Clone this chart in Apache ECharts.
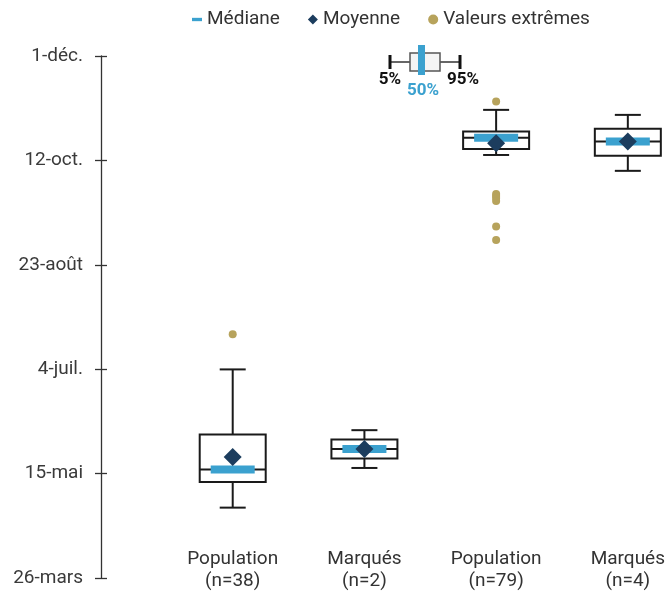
<!DOCTYPE html>
<html>
<head>
<meta charset="utf-8">
<script src="https://cdn.jsdelivr.net/npm/echarts@6/dist/echarts.min.js"></script>
<style>
  html, body { margin: 0; padding: 0; background: #fff; }
  #chart { width: 668px; height: 595px; }
</style>
</head>
<body>
<div id="chart"></div>
<script>
// valeurs en jours depuis le 26 mars
const categories = ['', 'Population\n(n=38)', 'Marqués\n(n=2)', 'Population\n(n=79)', 'Marqués\n(n=4)'];
const tickLabels = ['26-mars', '15-mai', '4-juil.', '23-août', '12-oct.', '1-déc.'];

// [catégorie, 5%, Q1, médiane, Q3, 95%]
const boxData = [
  [1, 33.7, 46.0, 52.0, 68.7, 99.9],
  [2, 52.7, 57.2, 61.8, 66.3, 70.8],
  [3, 202.6, 205.5, 210.8, 213.8, 224.2],
  [4, 195.0, 202.2, 209.0, 215.1, 221.8]
];
const medianData = [[1, 52.0], [2, 61.8], [3, 210.8], [4, 209.0]];
const meanData = [[1, 58.0], [2, 61.8], [3, 208.2], [4, 209.0]];
const outlierData = [
  [1, 116.7],
  [3, 228.2], [3, 183.9], [3, 183.0], [3, 182.0], [3, 180.6], [3, 168.3], [3, 161.9]
];

const FONT = 'Roboto';
const BLUE = '#3ba1cf';
const NAVY = '#1c3d5e';
const GOLD = '#b7a35c';
const INK = '#1a1a1a';

const chart = echarts.init(document.getElementById('chart'));

const option = {
  animation: false,
  backgroundColor: '#fff',
  textStyle: { fontFamily: FONT },
  grid: { left: 101, right: 40, top: 56, bottom: 17 },
  legend: {
    left: 187,
    top: 5,
    itemWidth: 10,
    itemHeight: 10,
    itemGap: 28,
    textStyle: { fontSize: 19, color: '#333', fontFamily: FONT },
    data: [
      { name: 'Médiane', icon: 'path://M0 0H12V4H0Z' },
      { name: 'Moyenne', icon: 'diamond' },
      { name: 'Valeurs extrêmes', icon: 'circle' }
    ]
  },
  xAxis: {
    type: 'category',
    data: categories,
    boundaryGap: false,
    axisLine: { show: false },
    axisTick: { show: false },
    splitLine: { show: false },
    axisLabel: {
      margin: -30,
      interval: 0,
      fontSize: 19,
      lineHeight: 22,
      color: '#333',
      fontFamily: FONT
    }
  },
  yAxis: [
    {
      type: 'value',
      min: 0,
      max: 250,
      interval: 50,
      axisLine: { show: true, lineStyle: { color: '#333', width: 1.3 } },
      axisTick: { show: true, length: 6, lineStyle: { color: '#333', width: 1.3 } },
      splitLine: { show: false },
      axisLabel: {
        margin: 18,
        fontSize: 19,
        color: '#3a3a3a',
        fontFamily: FONT,
        formatter: v => tickLabels[Math.round(v / 50)]
      }
    },
    {
      type: 'value',
      position: 'left',
      min: 0,
      max: 250,
      interval: 50,
      axisLine: { show: false },
      axisTick: { show: true, inside: true, length: 6, lineStyle: { color: '#333', width: 1.3 } },
      splitLine: { show: false },
      axisLabel: { show: false }
    }
  ],
  graphic: [
    // petite légende schématique 5% / 50% / 95%
    { type: 'line', shape: { x1: 390, y1: 62, x2: 460, y2: 62 }, style: { stroke: '#333', lineWidth: 1.5 } },
    { type: 'line', shape: { x1: 390, y1: 55, x2: 390, y2: 69 }, style: { stroke: '#111', lineWidth: 3 } },
    { type: 'line', shape: { x1: 460, y1: 55, x2: 460, y2: 69 }, style: { stroke: '#111', lineWidth: 3 } },
    { type: 'rect', shape: { x: 410, y: 53, width: 30, height: 18 }, style: { fill: '#f4f4f4', stroke: '#555', lineWidth: 1.5 } },
    { type: 'rect', shape: { x: 418, y: 45, width: 7, height: 30 }, style: { fill: BLUE } },
    { type: 'text', x: 390, y: 80, style: { text: '5%', fill: '#111', font: 'bold 17px ' + FONT, align: 'center', verticalAlign: 'middle' } },
    { type: 'text', x: 423, y: 91, style: { text: '50%', fill: BLUE, font: 'bold 17px ' + FONT, align: 'center', verticalAlign: 'middle' } },
    { type: 'text', x: 463, y: 80, style: { text: '95%', fill: '#111', font: 'bold 17px ' + FONT, align: 'center', verticalAlign: 'middle' } }
  ],
  series: [
    {
      name: 'Boîtes',
      type: 'custom',
      data: boxData,
      z: 2,
      renderItem: function (params, api) {
        const x = api.value(0);
        const pLo = api.coord([x, api.value(1)]);
        const pQ1 = api.coord([x, api.value(2)]);
        const pMed = api.coord([x, api.value(3)]);
        const pQ3 = api.coord([x, api.value(4)]);
        const pHi = api.coord([x, api.value(5)]);
        const cx = pLo[0];
        const bw = 66, cw = 26;
        const st = { stroke: INK, lineWidth: 2, fill: null };
        return {
          type: 'group',
          children: [
            { type: 'line', shape: { x1: cx, y1: pHi[1], x2: cx, y2: pLo[1] }, style: st },
            { type: 'line', shape: { x1: cx - cw / 2, y1: pHi[1], x2: cx + cw / 2, y2: pHi[1] }, style: st },
            { type: 'line', shape: { x1: cx - cw / 2, y1: pLo[1], x2: cx + cw / 2, y2: pLo[1] }, style: st },
            { type: 'rect', shape: { x: cx - bw / 2, y: pQ3[1], width: bw, height: pQ1[1] - pQ3[1] }, style: { fill: '#fff', stroke: INK, lineWidth: 2 } },
            { type: 'line', shape: { x1: cx - bw / 2, y1: pMed[1], x2: cx + bw / 2, y2: pMed[1] }, style: st }
          ]
        };
      }
    },
    {
      name: 'Médiane',
      type: 'custom',
      data: medianData,
      z: 3,
      itemStyle: { color: BLUE },
      renderItem: function (params, api) {
        const p = api.coord([api.value(0), api.value(1)]);
        return { type: 'rect', shape: { x: p[0] - 22, y: p[1] - 4, width: 44, height: 8 }, style: { fill: BLUE } };
      }
    },
    {
      name: 'Moyenne',
      type: 'scatter',
      data: meanData,
      z: 4,
      symbol: 'diamond',
      symbolSize: [18, 18],
      itemStyle: { color: NAVY, opacity: 1 }
    },
    {
      name: 'Valeurs extrêmes',
      type: 'scatter',
      data: outlierData,
      z: 4,
      symbol: 'circle',
      symbolSize: 8,
      itemStyle: { color: GOLD, opacity: 1 }
    }
  ]
};

chart.setOption(option);
</script>
</body>
</html>
